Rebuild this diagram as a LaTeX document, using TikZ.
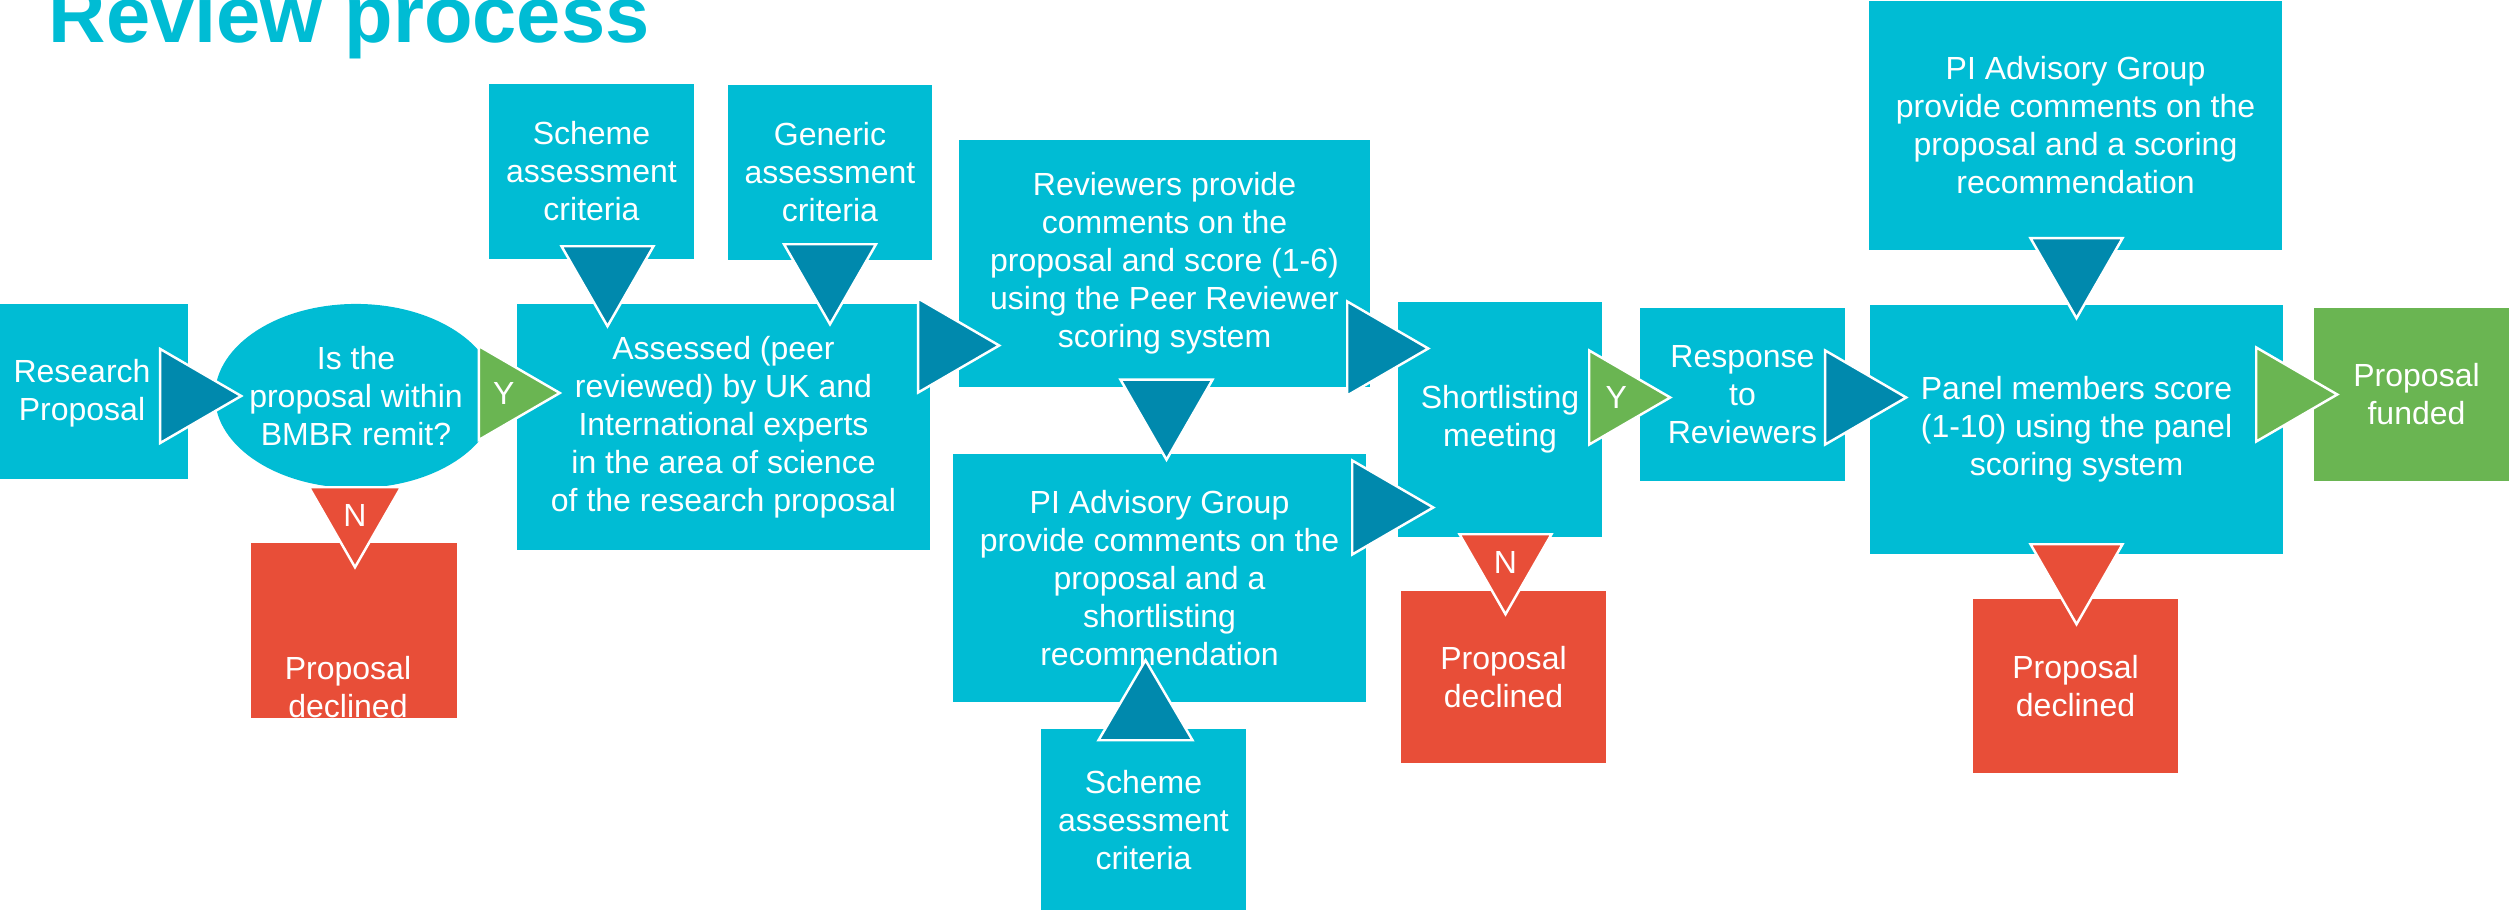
\documentclass[tikz,border=0pt]{standalone}
\usepackage{fontspec}
\setmainfont{Liberation Sans}
\usetikzlibrary{shapes.geometric,calc,positioning}
\definecolor{boxcyan}{RGB}{0,188,212}
\definecolor{arrowteal}{RGB}{0,137,173}
\definecolor{okgreen}{RGB}{106,181,82}
\definecolor{nored}{RGB}{232,78,56}
\newcommand{\boxfont}{\fontsize{9.1}{10.8}\selectfont}
\newcommand{\titlefont}{\fontsize{22.6}{27}\selectfont\bfseries}
\tikzstyle{smallbox} = [rectangle, minimum width=2.05cm, minimum height=1.74cm, inner sep=0pt, align=center, fill=boxcyan, text=white, font=\boxfont]
\tikzstyle{bigbox} = [smallbox, minimum width=4.13cm, minimum height=2.47cm]
\tikzstyle{declined} = [smallbox, fill=nored]
\tikzstyle{funded} = [smallbox, fill=okgreen]
\tikzstyle{question} = [ellipse, fill=boxcyan, minimum width=2.82cm, minimum height=1.84cm, inner sep=0pt]
\tikzstyle{lbl} = [inner sep=0pt, align=center, text=white, font=\boxfont]
\tikzstyle{tri} = [draw=white, line width=0.7pt, line join=miter]
% triangles: #1 colour, #2 tip, #3 name of the tip
\newcommand{\flowright}[3]{\filldraw[tri, fill=#1] #2 coordinate (#3) -- ++(-81,-47) -- ++(0,94) -- cycle;}
\newcommand{\flowdown}[3]{\filldraw[tri, fill=#1] #2 coordinate (#3) -- ++(-46,-80) -- ++(92,0) -- cycle;}
\newcommand{\flowup}[3]{\filldraw[tri, fill=#1] #2 coordinate (#3) -- ++(-47,80) -- ++(94,0) -- cycle;}

\begin{document}
\begin{tikzpicture}[x=0.01cm, y=-0.01cm]
\useasboundingbox (0,0) rectangle (2509,910);
\node (title) [anchor=base west, inner sep=0pt, text=boxcyan, font=\titlefont] at (48,43) {Review process};

\node (rp) [smallbox, minimum width=1.88cm, minimum height=1.75cm] at (94,391.5) {};
\node (rptext) [lbl] at ($(rp.center)+(-12,2)$) {Research\\Proposal};
\node (q) [question] at (356,396) {};
\node (qtext) [lbl] at (q) {Is the\\proposal within\\BMBR remit?};
\node (d1) [declined, minimum height=1.75cm] at (354,630.5) {};
\node (d1text) [lbl] at ($(d1.center)+(-6,57)$) {Proposal\\declined};
\node (s1) [smallbox] at (591.5,171.5) {Scheme\\assessment\\criteria};
\node (g) [smallbox, minimum width=2.04cm] at (830,172.5) {Generic\\assessment\\criteria};
\node (a) [bigbox, minimum height=2.46cm] at (723.5,427) {Assessed (peer\\reviewed) by UK and\\International experts\\in the area of science\\of the research proposal};

\node (r) [bigbox, minimum width=4.11cm] at (1164.5,263.5) {Reviewers provide\\comments on the\\proposal and score (1-6)\\using the Peer Reviewer\\scoring system};
\node (p) [bigbox] at (1159.5,578) {PI Advisory Group\\provide comments on the\\proposal and a\\shortlisting\\recommendation};
\node (s2) [smallbox, minimum height=1.83cm] at (1143.5,820.5) {Scheme\\assessment\\criteria};
\node (sl) [smallbox, minimum width=2.04cm, minimum height=2.35cm] at (1500,419.5) {Shortlisting\\meeting};
\node (d2) [declined, minimum height=1.72cm] at (1503.5,677) {Proposal\\declined};

\node (resp) [smallbox, minimum height=1.73cm] at (1742.5,394.5) {Response\\to\\Reviewers};
\node (tp) [bigbox, minimum height=2.49cm] at (2075.5,125.5) {PI Advisory Group\\provide comments on the\\proposal and a scoring\\recommendation};
\node (pan) [bigbox, minimum height=2.49cm] at (2076.5,429.5) {Panel members score\\(1-10) using the panel\\scoring system};
\node (fund) [funded, minimum height=1.73cm] at (2416.5,394.5) {Proposal\\funded};
\node (d3) [declined] at (2075.5,686) {Proposal\\declined};

\flowright{arrowteal}{($(q.west)+(27,0)$)}{t1}
\flowright{okgreen}{($(q.east)+(62,-3)$)}{t2}
\node [lbl] at ($(t2)+(-56,0)$) {Y};
\flowdown{nored}{($(d1.north)+(1,25)$)}{t3}
\node [lbl] at ($(t3)+(0,-52)$) {N};
\flowdown{arrowteal}{($(s1.south)+(16,67)$)}{t4}
\flowdown{arrowteal}{($(g.south)+(0,64)$)}{t5}
\flowright{arrowteal}{($(r.west)+(41,82)$)}{t6}
\flowdown{arrowteal}{($(p.north)+(7,6)$)}{t7}
\flowup{arrowteal}{($(s2.north)+(2,-68)$)}{t8}
\flowright{arrowteal}{($(sl.west)+(31,-71)$)}{t9}
\flowright{arrowteal}{($(sl.west)+(36,88)$)}{t10}
\flowdown{nored}{($(d2.north)+(2,24)$)}{t11}
\node [lbl] at ($(t11)+(0,-52)$) {N};
\flowright{okgreen}{($(resp.west)+(31,3)$)}{t12}
\node [lbl] at ($(t12)+(-54,0)$) {Y};
\flowright{arrowteal}{($(pan.west)+(37,-32)$)}{t13}
\flowdown{arrowteal}{($(pan.north)+(0,14)$)}{t14}
\flowright{okgreen}{($(fund.west)+(24,0)$)}{t15}
\flowdown{nored}{($(d3.north)+(1,26)$)}{t16}
\end{tikzpicture}
\end{document}
